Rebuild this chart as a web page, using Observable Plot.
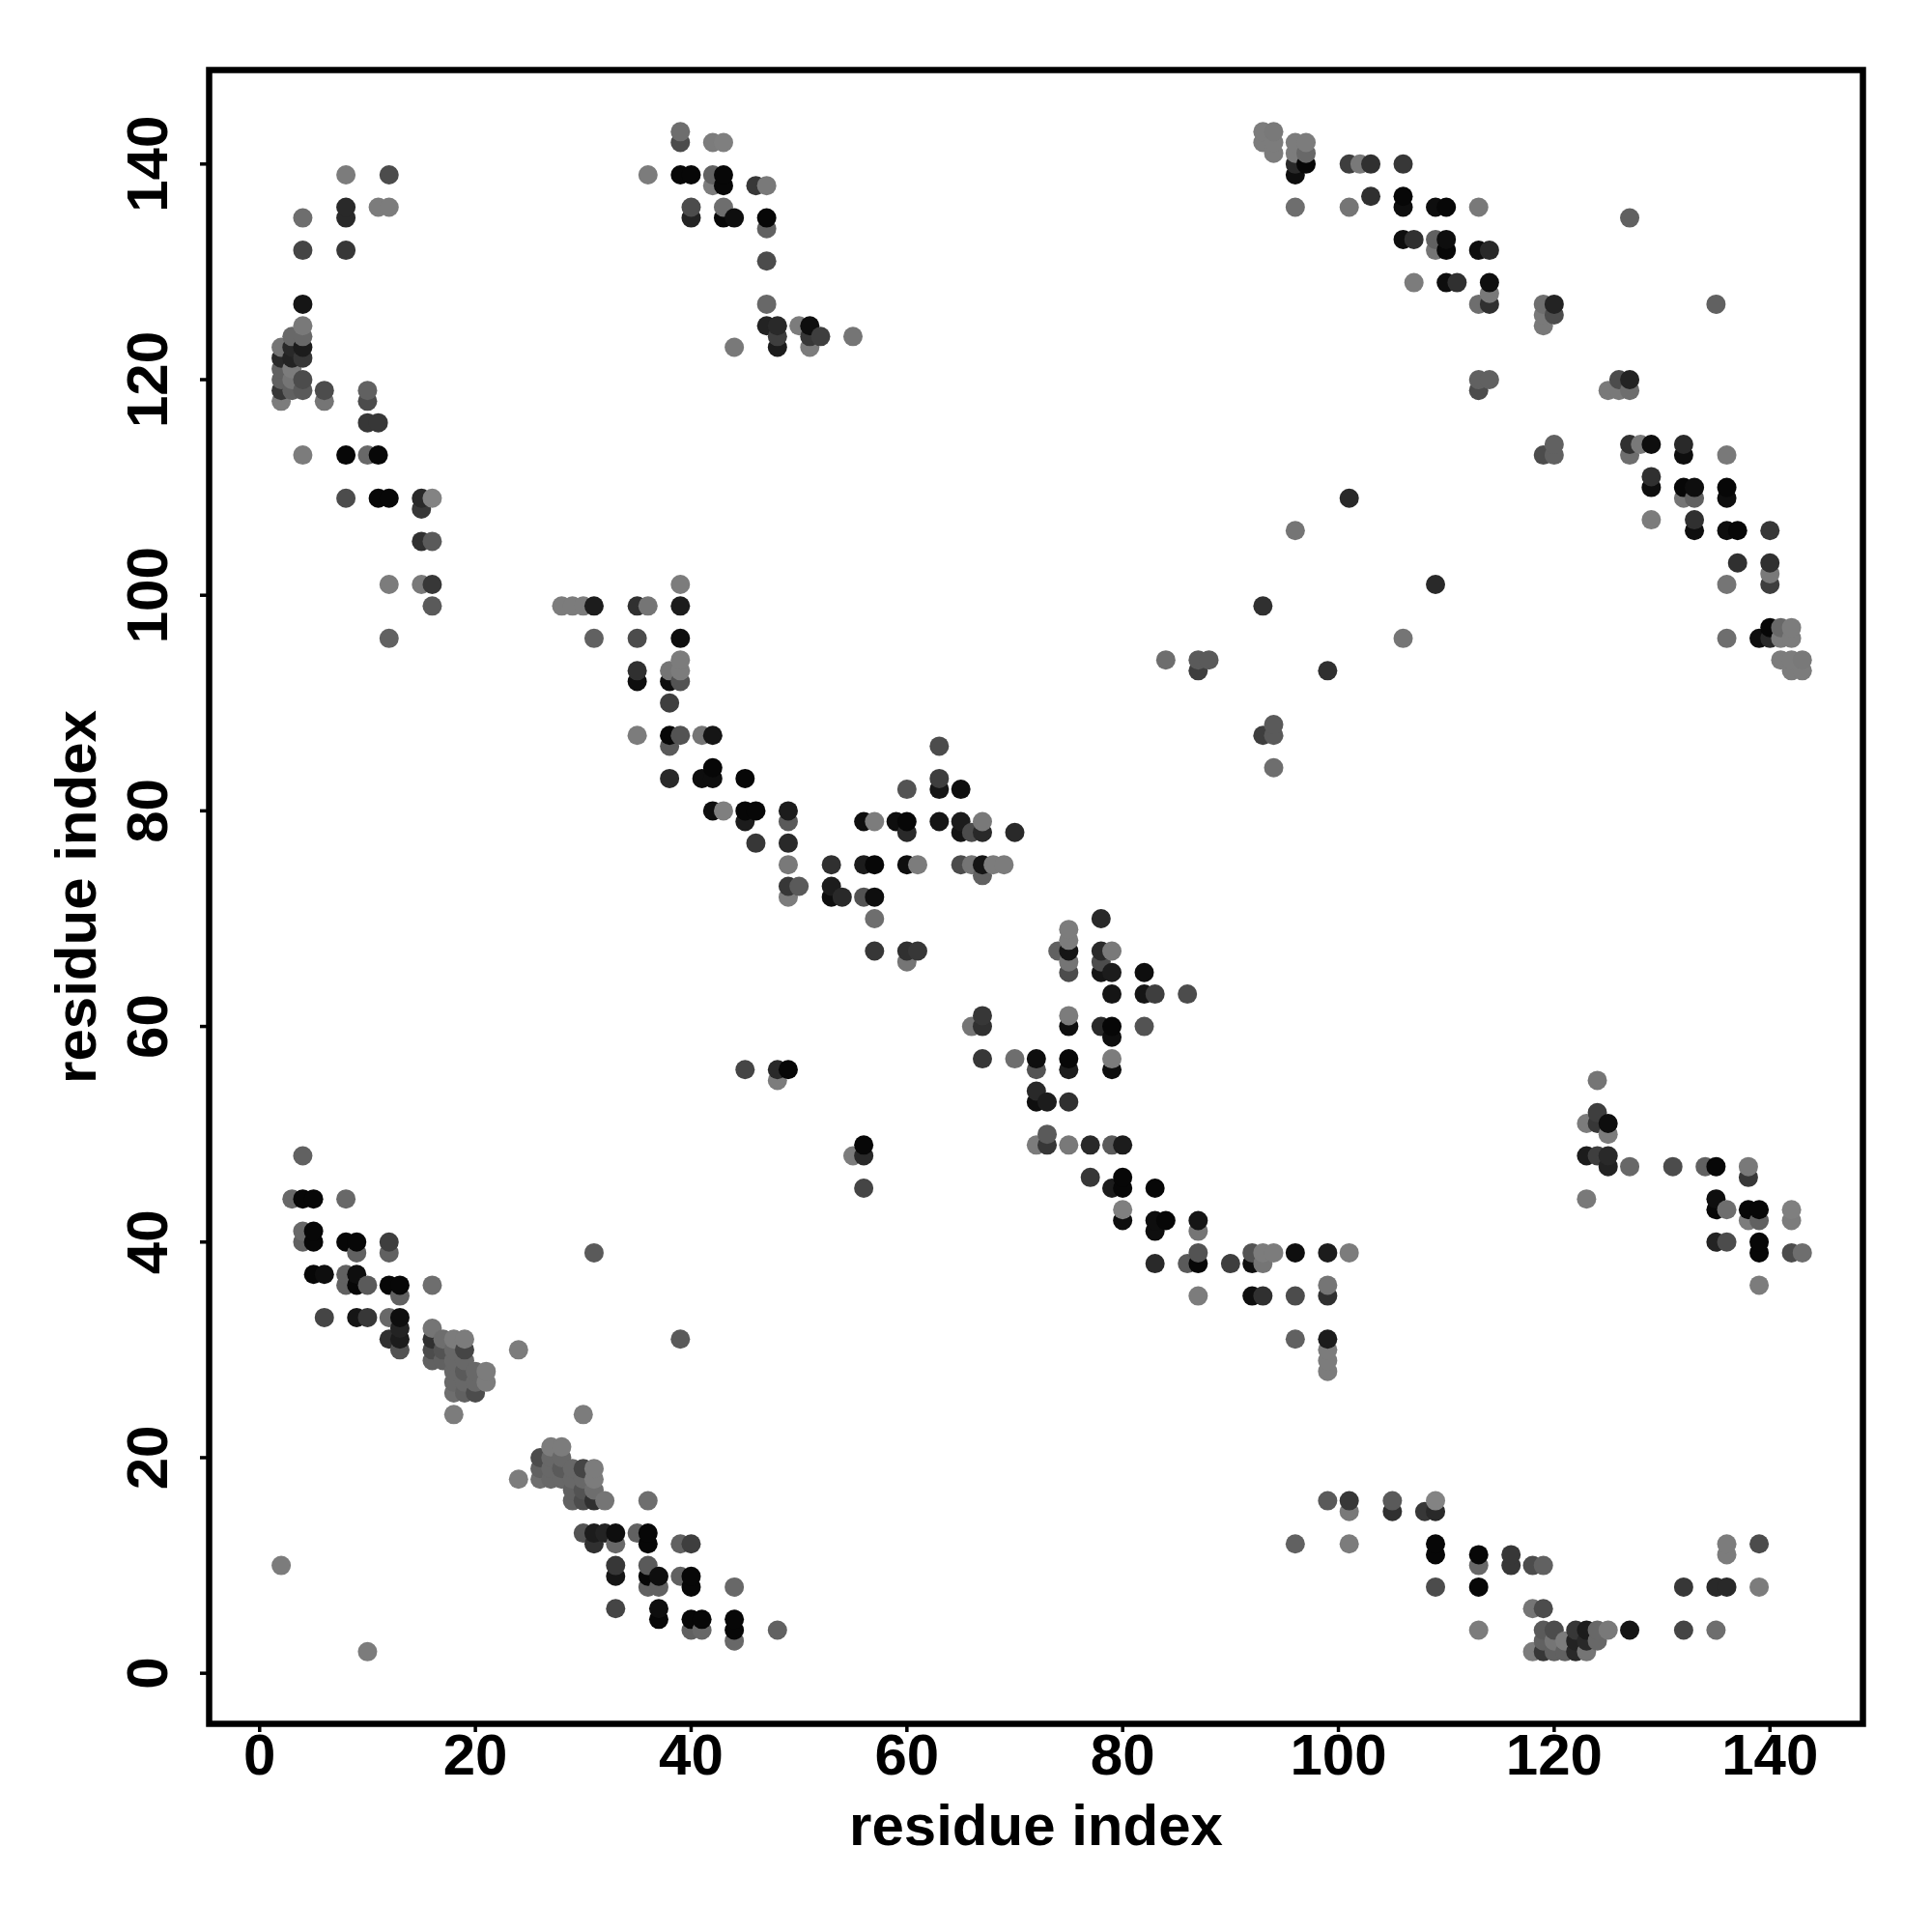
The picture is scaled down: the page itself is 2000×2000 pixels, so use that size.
<!DOCTYPE html>
<html><head><meta charset="utf-8">
<style>html,body{margin:0;padding:0;background:#fff}svg{display:block}</style>
<script src="https://cdn.jsdelivr.net/npm/d3@7"></script>
<script src="https://cdn.jsdelivr.net/npm/@observablehq/plot@0.6"></script>
</head><body><div id="chart"></div>
<script>
// [residue a, residue b, contact strength 0..1]; the map is symmetric, each pair is read once
const contactsNearN = [[2,10,.1],[3,44,.25],[4,40,.3],[4,41,.25],[4,44,.95],[4,48,.3],[5,37,.95],[5,40,.95],[5,41,.95],[5,44,.95],[6,33,.5],[6,37,.9],[8,36,.3],[8,37,.3],[8,40,.95],[8,44,.25],[9,33,.85],[9,36,.95],[9,37,.9],[9,39,.3],[9,40,.95],[10,33,.6],[10,36,.35],[12,31,.65],[12,33,.25],[12,36,.95],[12,39,.3],[12,40,.55],[13,30,.4],[13,31,.8],[13,32,.75],[13,33,.9],[13,35,.3],[13,36,.95],[16,36,.2]];
const contactsBlobA = [[16,29,.3],[16,30,.45],[16,31,.65],[16,32,.15],[17,29,.3],[17,30,.4],[17,31,.2],[18,24,.1],[18,26,.2],[18,27,.25],[18,28,.25],[18,29,.25],[18,30,.25],[18,31,.1],[19,26,.3],[19,27,.25],[19,28,.35],[19,29,.25],[19,30,.5],[19,31,.1],[20,26,.45],[20,27,.25],[20,28,.25],[21,27,.1],[21,28,.1],[24,30,.1]];
const contactsBlobB = [[2,118,.1],[2,119,.6],[2,120,.3],[2,121,.3],[2,122,.7],[2,123,.15],[3,119,.3],[3,120,.15],[3,121,.1],[3,122,.75],[3,123,.7],[3,124,.25],[4,113,.1],[4,119,.35],[4,120,.45],[4,122,.6],[4,123,.8],[4,124,.25],[4,125,.12],[4,127,.85],[4,132,.5],[4,135,.2],[6,118,.15],[6,119,.45]];
const contactsArmA = [[8,109,.45],[8,113,.95],[8,132,.6],[8,135,.7],[8,136,.7],[8,139,.1],[10,113,.25],[10,116,.6],[10,118,.45],[10,119,.3],[11,109,.95],[11,113,.95],[11,116,.6],[11,136,.1],[12,96,.3],[12,101,.1],[12,109,.95],[12,136,.1],[12,139,.45],[15,101,.12],[15,105,.65],[15,108,.6],[15,109,.7],[16,99,.35],[16,101,.6],[16,105,.35],[16,109,.05]];
const contactsNearMid = [[30,13,.4],[31,13,.8],[32,13,.75],[33,12,.25],[33,13,.9],[35,13,.3],[36,8,.3],[36,9,.95],[36,10,.35],[36,12,.95],[36,13,.95],[37,5,.95],[37,6,.9],[37,8,.3],[37,9,.9],[39,9,.3],[39,12,.3],[40,4,.3],[40,5,.95],[40,8,.95],[40,9,.95],[40,12,.55],[41,4,.25],[41,5,.95],[44,3,.25],[44,4,.95],[44,5,.95],[44,8,.25],[48,4,.3],[33,6,.5],[33,9,.85],[33,10,.6],[31,12,.65],[36,16,.2]];
const contactsLoopA = [[28,99,.1],[29,99,.1],[30,99,.1],[31,39,.35],[31,96,.3],[31,99,.8],[35,87,.1],[35,92,.9],[35,93,.65],[35,96,.45],[35,99,.65],[36,99,.15],[36,139,.1],[38,83,.7],[38,86,.35],[38,87,.95],[38,90,.55],[38,92,.9],[38,93,.15],[39,87,.4],[39,92,.4],[39,93,.1],[39,94,.1],[39,96,.9],[39,99,.8],[39,101,.1],[39,142,.45],[39,143,.2],[39,139,.95],[40,135,.75],[40,136,.45],[40,139,.95],[41,83,.9],[41,87,.15],[42,80,.9],[42,83,.9],[42,84,.95],[42,87,.85],[42,138,.1],[42,139,.3],[42,142,.1],[43,80,.08],[43,135,.95],[43,136,.2],[43,138,.95],[43,139,.95],[43,142,.08],[44,123,.12],[44,135,.9],[45,56,.5],[45,79,.8],[45,80,.95],[45,83,.95],[46,77,.6],[46,80,.95],[46,138,.6],[47,125,.75],[47,127,.25],[47,131,.45],[47,134,.3],[47,135,.95],[47,138,.12],[48,55,.1],[48,56,.7],[48,123,.8],[48,124,.55],[48,125,.7],[49,56,.95],[49,72,.1],[49,73,.6],[49,75,.12],[49,77,.7],[49,79,.35],[49,80,.8],[50,73,.35],[50,125,.1],[51,123,.1],[51,124,.6],[51,125,.9],[52,124,.55],[53,72,.9],[53,73,.8],[53,75,.65],[54,72,.7],[55,124,.15]];
const contactsLoopB = [[56,72,.4],[56,75,.8],[56,79,.9],[57,67,.6],[57,70,.2],[57,72,.9],[57,75,.95],[57,79,.1],[59,79,.9],[60,66,.15],[60,67,.65],[60,75,.9],[60,78,.7],[60,79,.95],[60,82,.4],[61,67,.6],[61,75,.1],[63,79,.85],[63,82,.85],[63,83,.55],[63,86,.45],[65,75,.45],[65,78,.85],[65,79,.8],[65,82,.9],[66,75,.15],[66,78,.45],[67,74,.3],[67,75,.85],[67,78,.7],[67,79,.12],[68,75,.1],[69,75,.1],[70,78,.7]];
const contactsFarA = [[84,94,.2],[87,93,.55],[87,94,.35],[88,94,.35],[93,99,.65],[96,106,.15],[101,109,.7]];
const contactsFarB = [[93,142,.1],[93,143,.1],[94,141,.1],[94,142,.1],[94,143,.12],[96,136,.2],[96,139,.9],[96,140,.7],[96,141,.1],[96,142,.1],[97,140,.95],[97,141,.25],[97,142,.1],[101,136,.15],[101,140,.55],[102,140,.12],[103,137,.65],[103,140,.65],[106,133,.9],[106,136,.9],[106,137,.95],[106,140,.6],[107,129,.1],[107,133,.65],[109,132,.15],[109,133,.3],[109,136,.9],[110,129,.9],[110,132,.95],[110,133,.9],[110,136,.95],[111,129,.65],[113,119,.45],[113,120,.3],[113,127,.2],[113,132,.9],[113,136,.12],[114,120,.3],[114,127,.65],[114,128,.12],[114,129,.9],[114,132,.7],[119,125,.12],[119,126,.12],[119,127,.2],[120,126,.45],[120,127,.75],[127,135,.3]];
const tickValues = [0,20,40,60,80,100,120,140];

const contactLists = [contactsNearN, contactsBlobA, contactsBlobB, contactsArmA, contactsNearMid, contactsLoopA, contactsLoopB, contactsFarA, contactsFarB];
const seen = new Map();
for (const list of contactLists) for (const [a,b,s] of list) {
  seen.set(`${a},${b}`, [a,b,s]); seen.set(`${b},${a}`, [b,a,s]);
}
const data = [...seen.values()].sort((p,q)=>d3.ascending(p[0],q[0])||d3.ascending(p[1],q[1]));

const chart = Plot.plot({
  width: 2000, height: 2000,
  marginLeft: 216, marginRight: 72, marginTop: 72, marginBottom: 216,
  x: {domain: [-4.68,148.62]},
  y: {domain: [-4.69,148.72]},
  color: {type:"linear", domain:[0,1], range:["#8a8a8a","#000000"]},
  style: {background:"#fff", fontFamily:"'Liberation Sans', Arial, sans-serif"},
  marks: [
    Plot.dot(data, {x:d=>d[0], y:d=>d[1], r:10, fill:d=>d[2], stroke:null}),
    Plot.frame({stroke:"#000", strokeWidth:6.5}),
    Plot.axisX({ticks:tickValues, tickFormat:d=>d, tickSize:9, tickPadding:1, fontSize:60, fontWeight:"bold", strokeWidth:3.5, label:"residue index", labelAnchor:"center", labelArrow:"none", labelOffset:125}),
    Plot.axisY({ticks:tickValues, tickFormat:d=>d, tickSize:9, tickPadding:35, tickRotate:-90, fontSize:60, fontWeight:"bold", strokeWidth:3.5, label:"residue index", labelAnchor:"center", labelArrow:"none", labelOffset:160})
  ]
});
document.getElementById("chart").append(chart);
</script></body></html>
